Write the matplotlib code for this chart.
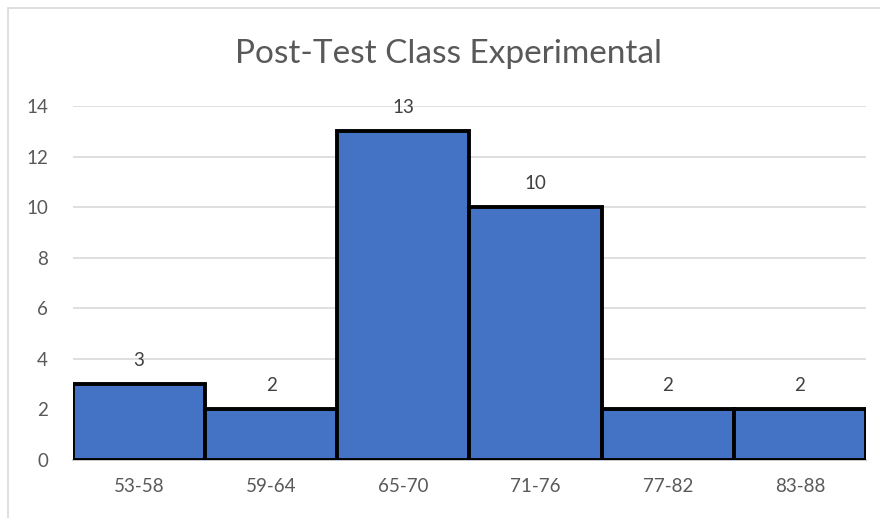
import matplotlib.pyplot as plt
from matplotlib.patches import Rectangle

bins = ["53-58", "59-64", "65-70", "71-76", "77-82", "83-88"]
counts = [3, 2, 13, 10, 2, 2]
yticks = [0, 2, 4, 6, 8, 10, 12, 14]

plt.rcParams['font.family'] = ['Lato', 'DejaVu Sans']
txt = "#595959"

fig = plt.figure(figsize=(8.8, 5.18), dpi=100)
ax = fig.add_axes([0.083, 0.112, 0.901, 0.683])

x = list(range(len(bins)))
ax.bar(x, counts, width=1.0, color="#4472C4", edgecolor="black", linewidth=2.8, zorder=3)
for xi, c in zip(x, counts):
    ax.text(xi, c + 0.6, str(c), ha="center", va="bottom", fontsize=13.5, color="#404040", zorder=4)

ax.set_xlim(-0.5, len(bins) - 0.5)
ax.set_ylim(0, 14)
ax.set_yticks(yticks)
ax.set_xticks(x)
ax.set_xticklabels(bins)
ax.grid(axis="y", color="#D9D9D9", linewidth=1.2, zorder=0)
for s in ["top", "right", "left"]:
    ax.spines[s].set_visible(False)
ax.spines["bottom"].set_color("#BFBFBF")
ax.spines["bottom"].set_linewidth(1.2)
ax.tick_params(length=0, labelsize=13.5, colors=txt)
ax.tick_params(axis="x", pad=13)
ax.tick_params(axis="y", pad=18)

fig.text(0.51, 0.895, "Post-Test Class Experimental", ha="center", va="center",
         fontsize=24, color=txt)

fig.patches.append(Rectangle((8 / 880, -0.1), 1.1, 1.1 - 8 / 518,
                             transform=fig.transFigure, fill=False,
                             edgecolor="#D9D9D9", linewidth=1.2))

fig.savefig("out.png", dpi=100)
